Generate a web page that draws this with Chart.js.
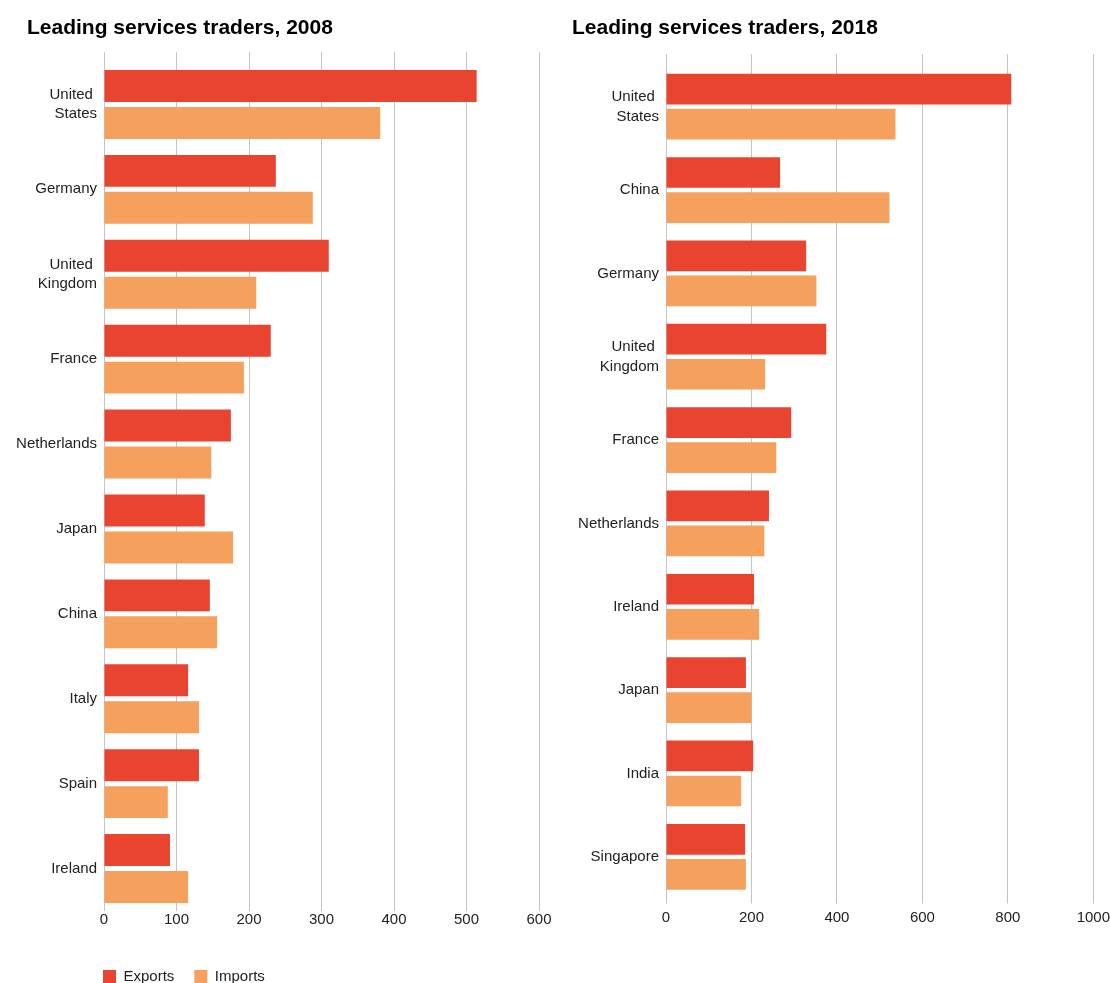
<!DOCTYPE html>
<html>
<head>
<meta charset="utf-8">
<script src="https://cdn.jsdelivr.net/npm/chart.js@4/dist/chart.umd.min.js"></script>
<style>
  html, body { margin: 0; padding: 0; background: #fff; }
  #wrap { position: relative; width: 1110px; height: 983px; overflow: hidden; }
  canvas { position: absolute; top: 0; }
  #chart2008 { left: 0; }
  #chart2018 { left: 555px; }
</style>
</head>
<body>
<div id="wrap">
  <canvas id="chart2008" width="555" height="983"></canvas>
  <canvas id="chart2018" width="560" height="983"></canvas>
</div>
<script>
// services trade, billions of US dollars
var countries2008 = [['United ', 'States'], 'Germany', ['United ', 'Kingdom'], 'France', 'Netherlands',
                     'Japan', 'China', 'Italy', 'Spain', 'Ireland'];
var exports2008 = [514, 237, 310, 230, 175, 139, 146, 116, 131, 91];
var imports2008 = [381, 288, 210, 193, 148, 178, 156, 131, 88, 116];

var countries2018 = [['United ', 'States'], 'China', 'Germany', ['United ', 'Kingdom'], 'France',
                     'Netherlands', 'Ireland', 'Japan', 'India', 'Singapore'];
var exports2018 = [808, 267, 328, 375, 293, 241, 206, 187, 204, 185];
var imports2018 = [537, 523, 352, 232, 258, 230, 218, 200, 176, 187];

var ticks2008 = [0, 100, 200, 300, 400, 500, 600];
var ticks2018 = [0, 200, 400, 600, 800, 1000];

var RED = '#e94430';
var ORANGE = '#f6a05e';
var GRID = '#c4c4c4';
var FONT = "'Liberation Sans', Arial, Helvetica, sans-serif";

Chart.defaults.font.family = FONT;
Chart.defaults.font.size = 15;
Chart.defaults.color = '#222';

// nudges the title and legend boxes after layout so they line up with the plot
var boxShift = {
  id: 'boxShift',
  afterLayout: function(chart, args, opts) {
    var t = chart.titleBlock;
    if (t && opts.titleX) {
      t.left += opts.titleX;
      t.right += opts.titleX;
    }
    var lg = chart.legend;
    if (lg && lg.options.display) {
      lg.left += opts.legendX || 0;
      lg.right += opts.legendX || 0;
      lg.top += opts.legendY || 0;
      lg.bottom += opts.legendY || 0;
    }
  }
};

function makeChart(id, title, labels, exp, imp, tickVals, cfg) {
  var max = tickVals[tickVals.length - 1];
  var step = tickVals[1] - tickVals[0];
  return new Chart(id, {
    type: 'bar',
    data: {
      labels: labels,
      datasets: [
        { label: 'Exports', data: exp, backgroundColor: RED,
          categoryPercentage: cfg.catPct, barPercentage: cfg.barPct },
        { label: 'Imports', data: imp, backgroundColor: ORANGE,
          categoryPercentage: cfg.catPct, barPercentage: cfg.barPct }
      ]
    },
    plugins: [boxShift],
    options: {
      indexAxis: 'y',
      responsive: false,
      animation: false,
      devicePixelRatio: 1,
      layout: {
        autoPadding: false,
        padding: { left: cfg.padLeft, right: cfg.padRight, top: 0, bottom: cfg.padBottom }
      },
      scales: {
        x: {
          position: 'bottom',
          min: 0, max: max,
          ticks: {
            stepSize: step, padding: cfg.tickPad, color: '#222', font: { size: 15 },
            callback: function(v) { return String(v); }
          },
          grid: { color: GRID, lineWidth: 1, drawTicks: cfg.bottomTick > 0, tickLength: cfg.bottomTick },
          border: { display: false },
          afterFit: function(s) { s.height = cfg.xHeight; }
        },
        // only draws short tick marks so the grid reaches above the first bar group
        x2: {
          position: 'top',
          min: 0, max: max,
          ticks: { stepSize: step, display: false },
          grid: { color: GRID, lineWidth: 1, drawOnChartArea: false, drawTicks: true, tickLength: cfg.topTick },
          border: { display: false }
        },
        y: {
          ticks: { padding: 7, autoSkip: false, color: '#222', font: { size: 15, lineHeight: 1.3 } },
          grid: { display: false, drawTicks: false },
          border: { display: false },
          afterFit: function(s) { s.width = cfg.yWidth; }
        }
      },
      plugins: {
        title: {
          display: true,
          text: title,
          align: 'start',
          color: '#000',
          font: { size: 21, weight: 'bold' },
          padding: { top: 16, bottom: cfg.titleBottom }
        },
        legend: {
          display: cfg.legend,
          position: 'bottom',
          align: 'start',
          fullSize: false,
          labels: { boxWidth: 13, boxHeight: 13, padding: 20, color: '#222', font: { size: 15 } }
        },
        boxShift: { titleX: cfg.titleX, legendX: -21, legendY: 18 },
        tooltip: { enabled: false }
      }
    }
  });
}

makeChart('chart2008', 'Leading services traders, 2008', countries2008, exports2008, imports2008, ticks2008, {
  catPct: 0.87, barPct: 0.865,
  padLeft: 8, padRight: 16, padBottom: 7,
  yWidth: 96, xHeight: 20, tickPad: 0, bottomTick: 0, topTick: 10,
  titleBottom: 10.8, titleX: 19, legend: true
});

makeChart('chart2018', 'Leading services traders, 2018', countries2018, exports2018, imports2018, ticks2018, {
  catPct: 0.84, barPct: 0.877,
  padLeft: 8, padRight: 10, padBottom: 54.5,
  yWidth: 103, xHeight: 30, tickPad: 5, bottomTick: 5, topTick: 11,
  titleBottom: 12.8, titleX: 9, legend: false
});
</script>
</body>
</html>
